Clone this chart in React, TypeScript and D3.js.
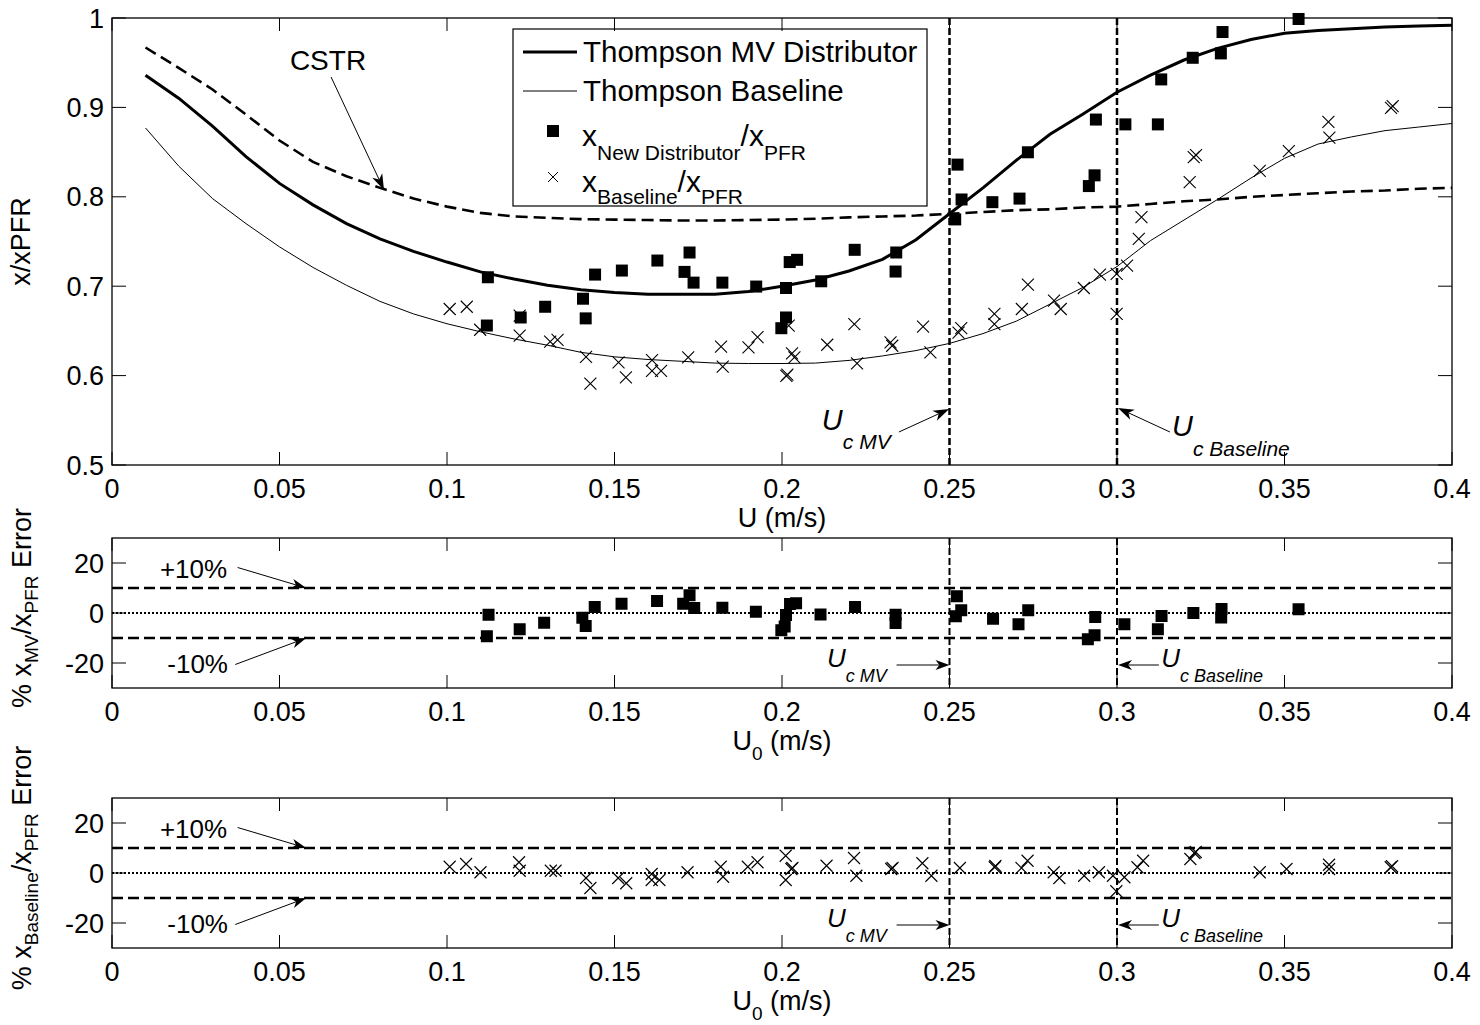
import React from 'react';
import * as d3 from 'd3';

// ---------- DATA ----------
const modelU = [0.01, 0.02, 0.03, 0.04, 0.05, 0.06, 0.07, 0.08, 0.09, 0.10, 0.11, 0.12, 0.13, 0.14, 0.15, 0.16, 0.17, 0.18, 0.19, 0.20, 0.21, 0.22, 0.23, 0.24, 0.25, 0.26, 0.27, 0.28, 0.29, 0.30, 0.31, 0.32, 0.33, 0.34, 0.35, 0.36, 0.37, 0.38, 0.39, 0.40];
const thompsonMV = [0.936, 0.910, 0.879, 0.845, 0.815, 0.791, 0.770, 0.753, 0.739, 0.727, 0.716, 0.708, 0.701, 0.696, 0.693, 0.691, 0.691, 0.691, 0.694, 0.700, 0.707, 0.717, 0.730, 0.752, 0.781, 0.810, 0.841, 0.870, 0.893, 0.917, 0.936, 0.953, 0.966, 0.976, 0.983, 0.986, 0.988, 0.990, 0.991, 0.992];
const thompsonBaseline = [0.877, 0.834, 0.798, 0.770, 0.744, 0.721, 0.701, 0.683, 0.669, 0.658, 0.649, 0.641, 0.634, 0.626, 0.621, 0.618, 0.616, 0.614, 0.6135, 0.6135, 0.614, 0.617, 0.622, 0.628, 0.636, 0.647, 0.661, 0.680, 0.699, 0.722, 0.751, 0.774, 0.797, 0.821, 0.843, 0.859, 0.867, 0.874, 0.878, 0.882];
const cstr = [0.967, 0.944, 0.920, 0.892, 0.863, 0.839, 0.823, 0.810, 0.798, 0.789, 0.782, 0.778, 0.7765, 0.775, 0.7745, 0.774, 0.7735, 0.7735, 0.774, 0.7745, 0.7755, 0.777, 0.778, 0.779, 0.781, 0.783, 0.785, 0.786, 0.788, 0.789, 0.792, 0.795, 0.797, 0.800, 0.802, 0.804, 0.806, 0.807, 0.809, 0.810];

const mvU = [0.1122, 0.1119, 0.122, 0.1293, 0.1406, 0.1414, 0.1442, 0.1522, 0.1628, 0.1724, 0.1709, 0.1736, 0.1822, 0.1923, 0.2012, 0.2023, 0.2045, 0.2012, 0.1998, 0.2117, 0.2217, 0.2341, 0.2339, 0.2524, 0.2536, 0.2517, 0.2628, 0.2709, 0.2734, 0.2933, 0.2916, 0.2937, 0.3025, 0.3122, 0.3132, 0.3226, 0.331, 0.3315, 0.3542];
const mvRatio = [0.710, 0.656, 0.665, 0.677, 0.686, 0.664, 0.713, 0.7175, 0.7287, 0.7377, 0.716, 0.704, 0.704, 0.6996, 0.698, 0.727, 0.7295, 0.665, 0.653, 0.7055, 0.7407, 0.7377, 0.7164, 0.836, 0.797, 0.7747, 0.794, 0.798, 0.8498, 0.824, 0.812, 0.8864, 0.881, 0.881, 0.9313, 0.9555, 0.9604, 0.9843, 0.9989];

const blU = [0.1008, 0.1059, 0.1099, 0.1217, 0.1217, 0.1308, 0.133, 0.1415, 0.1428, 0.1512, 0.1534, 0.1612, 0.1612, 0.1639, 0.172, 0.1818, 0.1823, 0.190, 0.1927, 0.2013, 0.2016, 0.203, 0.2037, 0.202, 0.2135, 0.2216, 0.2224, 0.2324, 0.2329, 0.2421, 0.2443, 0.2527, 0.2535, 0.2634, 0.2634, 0.2716, 0.2734, 0.2812, 0.2832, 0.2901, 0.2949, 0.2999, 0.2999, 0.303, 0.3065, 0.3073, 0.3217, 0.3229, 0.3236, 0.3426, 0.3513, 0.3634, 0.3631, 0.3818, 0.3823];
const blRatio = [0.6745, 0.677, 0.6513, 0.667, 0.6446, 0.638, 0.640, 0.621, 0.591, 0.6147, 0.598, 0.6174, 0.6054, 0.6054, 0.6203, 0.6323, 0.610, 0.6315, 0.643, 0.5998, 0.601, 0.6248, 0.6203, 0.656, 0.6345, 0.6577, 0.6136, 0.6371, 0.6334, 0.6547, 0.6259, 0.648, 0.653, 0.669, 0.6577, 0.6745, 0.7018, 0.6839, 0.6745, 0.698, 0.713, 0.7138, 0.669, 0.723, 0.753, 0.7772, 0.8165, 0.8445, 0.8465, 0.8289, 0.8512, 0.8662, 0.8838, 0.8995, 0.9015];

const mvErrU = [0.1124, 0.1119, 0.1217, 0.129, 0.1404, 0.1414, 0.1441, 0.1521, 0.1627, 0.1724, 0.1705, 0.1738, 0.1822, 0.1922, 0.1998, 0.2008, 0.2012, 0.2024, 0.2042, 0.2115, 0.2218, 0.2339, 0.2339, 0.2522, 0.2535, 0.2519, 0.263, 0.2706, 0.2735, 0.2935, 0.2933, 0.2913, 0.3022, 0.3133, 0.3122, 0.3228, 0.3312, 0.3311, 0.3542];
const mvErr = [-0.7, -9.3, -6.5, -3.9, -1.9, -5.2, 2.4, 3.7, 4.8, 7.1, 3.7, 2.0, 2.1, 0.5, -6.9, -5.4, -0.8, 3.6, 3.9, -0.6, 2.4, -0.7, -4.0, 6.7, 1.1, -1.3, -2.3, -4.5, 1.1, -1.6, -8.9, -10.5, -4.5, -1.2, -6.5, 0.0, 1.6, -1.8, 1.5];

const blErrU = [0.1008, 0.1057, 0.110, 0.1215, 0.1217, 0.131, 0.1324, 0.1415, 0.1428, 0.1511, 0.1535, 0.1611, 0.1611, 0.1634, 0.1718, 0.1817, 0.1824, 0.1898, 0.1927, 0.2011, 0.2011, 0.2028, 0.2031, 0.2133, 0.2215, 0.2222, 0.2326, 0.2330, 0.2419, 0.2446, 0.2531, 0.2635, 0.2637, 0.2715, 0.2733, 0.2811, 0.2828, 0.2902, 0.2946, 0.2988, 0.2998, 0.3022, 0.3061, 0.3078, 0.3219, 0.3231, 0.3235, 0.3426, 0.3506, 0.3633, 0.3633, 0.3817, 0.3821];
const blErr = [2.5, 3.6, 0.3, 4.3, 0.9, 0.9, 0.9, -2.0, -6.0, -2.0, -4.1, -0.4, -2.8, -2.8, 0.3, 2.5, -1.5, 2.5, 4.3, 6.9, -2.8, 1.6, 2.0, 2.9, 6.0, -1.1, 1.6, 2.0, 3.9, -1.1, 2.0, 2.3, 2.8, 2.0, 4.9, 0.3, -2.0, -1.1, 0.3, -1.1, -7.3, -1.7, 2.3, 4.9, 5.6, 8.0, 8.4, 0.3, 1.6, 1.6, 3.3, 2.3, 2.7];

const xTicks = [0, 0.05, 0.1, 0.15, 0.2, 0.25, 0.3, 0.35, 0.4];
const xTickLabels = ['0', '0.05', '0.1', '0.15', '0.2', '0.25', '0.3', '0.35', '0.4'];
const mainYTicks = [0.5, 0.6, 0.7, 0.8, 0.9, 1];
const mainYTickLabels = ['0.5', '0.6', '0.7', '0.8', '0.9', '1'];
const errYTicks = [-20, 0, 20];
const errYTickLabels = ['-20', '0', '20'];
const critU = [0.25, 0.3];
const bandLevels = [10, -10];

const legendLabels = ['Thompson MV Distributor', 'Thompson Baseline'];

// ---------- LAYOUT ----------
const FONT = '"Liberation Sans", Arial, Helvetica, sans-serif';
const W = 1480, H = 1025;
const X0 = 112, X1 = 1452;
const x = d3.scaleLinear().domain([0, 0.4]).range([X0, X1]);
const yMain = d3.scaleLinear().domain([0.5, 1]).range([465, 18]);
const yMid = d3.scaleLinear().domain([-30, 30]).range([688, 538]);
const yBot = d3.scaleLinear().domain([-30, 30]).range([948, 798]);

function Arrow({ x1, y1, x2, y2, head = 15, width = 10, sw = 1 }: any) {
  const a = Math.atan2(y2 - y1, x2 - x1);
  const ux = Math.cos(a), uy = Math.sin(a);
  const px = -uy, py = ux;
  const bx = x2 - ux * head, by = y2 - uy * head;
  const nx = x2 - ux * head * 0.72, ny = y2 - uy * head * 0.72;
  const pts = [
    [x2, y2],
    [bx + px * width / 2, by + py * width / 2],
    [nx, ny],
    [bx - px * width / 2, by - py * width / 2],
  ].map(p => p.join(',')).join(' ');
  return (
    <g>
      <line x1={x1} y1={y1} x2={nx} y2={ny} stroke="#000" strokeWidth={sw} />
      <polygon points={pts} fill="#000" />
    </g>
  );
}

function Square({ cx, cy, s = 12 }: any) {
  return <rect x={cx - s / 2} y={cy - s / 2} width={s} height={s} fill="#000" />;
}
function Cross({ cx, cy, s = 12, sw = 1.1 }: any) {
  const h = s / 2;
  return <path d={`M${cx - h},${cy - h}L${cx + h},${cy + h}M${cx - h},${cy + h}L${cx + h},${cy - h}`} stroke="#000" strokeWidth={sw} fill="none" />;
}

function Frame({ y, yTicks, yLabels, tickFont = 27 }: any) {
  const [yb, yt] = y.range();
  const tl = 13;
  return (
    <g>
      {xTicks.map((t, i) => (
        <g key={'xt' + i}>
          <line x1={x(t)} x2={x(t)} y1={yb} y2={yb - tl} stroke="#000" strokeWidth={1} />
          <line x1={x(t)} x2={x(t)} y1={yt} y2={yt + tl} stroke="#000" strokeWidth={1} />
          <text x={x(t)} y={yb + 33} textAnchor="middle" fontSize={tickFont} fontFamily={FONT}>{xTickLabels[i]}</text>
        </g>
      ))}
      {yTicks.map((t: number, i: number) => (
        <g key={'yt' + i}>
          <line x1={X0} x2={X0 + 14} y1={y(t)} y2={y(t)} stroke="#000" strokeWidth={1} />
          <line x1={X1} x2={X1 - 14} y1={y(t)} y2={y(t)} stroke="#000" strokeWidth={1} />
          <text x={104} y={y(t) + 9.5} textAnchor="end" fontSize={tickFont} fontFamily={FONT}>{yLabels[i]}</text>
        </g>
      ))}
      <rect x={X0} y={yt} width={X1 - X0} height={yb - yt} fill="none" stroke="#000" strokeWidth={1.3} />
    </g>
  );
}

function ErrorPanel({ y, us, errs, marker, labelCenter, subLabel }: any) {
  const [yb, yt] = y.range();
  return (
    <g>
      {bandLevels.map((b, i) => (
        <line key={'b' + i} x1={X0} x2={X1} y1={y(b)} y2={y(b)} stroke="#000" strokeWidth={2.3} strokeDasharray="11,5" />
      ))}
      <line x1={X0} x2={X1} y1={y(0)} y2={y(0)} stroke="#000" strokeWidth={2.2} strokeDasharray="2,2" />
      {critU.map((c, i) => (
        <line key={'c' + i} x1={x(c)} x2={x(c)} y1={yt} y2={yb} stroke="#000" strokeWidth={2} strokeDasharray="7,3" />
      ))}
      {us.map((u: number, i: number) =>
        marker === 'square'
          ? <Square key={i} cx={x(u)} cy={y(errs[i])} />
          : <Cross key={i} cx={x(u)} cy={y(errs[i])} />
      )}
      {/* +/-10% annotations */}
      <text x={x(0.0143)} y={y(14)} fontSize={26} fontFamily={FONT}>+10%</text>
      <Arrow x1={x(0.0375)} y1={y(18.2)} x2={x(0.058)} y2={y(10)} />
      <text x={x(0.0165)} y={y(-24)} fontSize={26} fontFamily={FONT}>-10%</text>
      <Arrow x1={x(0.0368)} y1={y(-20.6)} x2={x(0.058)} y2={y(-10)} />
      {/* critical velocity annotations */}
      <text x={x(0.2134)} y={y(-21.6)} fontSize={26} fontStyle="italic" fontFamily={FONT}>U<tspan dy={15} fontSize={18}>c MV</tspan></text>
      <Arrow x1={x(0.2342)} y1={y(-20.8)} x2={x(0.25)} y2={y(-20.8)} head={14} width={10} />
      <text x={x(0.3132)} y={y(-21.6)} fontSize={26} fontStyle="italic" fontFamily={FONT}>U<tspan dy={15} fontSize={18}>c Baseline</tspan></text>
      <Arrow x1={x(0.3125)} y1={y(-20.8)} x2={x(0.3003)} y2={y(-20.8)} head={14} width={10} />
      <Frame y={y} yTicks={errYTicks} yLabels={errYTickLabels} />
      {/* axis labels */}
      <text x={(X0 + X1) / 2} y={yb + 62} textAnchor="middle" fontSize={27} fontFamily={FONT}>U<tspan dy={10} fontSize={19}>0</tspan><tspan dy={-10}> (m/s)</tspan></text>
      <text transform={`translate(31,${labelCenter}) rotate(-90)`} textAnchor="middle" fontSize={27} fontFamily={FONT}>
        % x<tspan dy={7} fontSize={19}>{subLabel}</tspan><tspan dy={-7}>/x</tspan><tspan dy={7} fontSize={19}>PFR</tspan><tspan dy={-7}> Error</tspan>
      </text>
    </g>
  );
}

export default function App() {
  const lineMV = d3.line<number>().x((_, i) => x(modelU[i])).y(d => yMain(d));
  const [yb, yt] = yMain.range();
  return (
    <svg width={W} height={H} style={{ position: 'absolute', left: 0, top: 0, background: '#fff' }} xmlns="http://www.w3.org/2000/svg">
      <rect x={0} y={0} width={W} height={H} fill="#fff" />
      {/* ---------- MAIN PANEL ---------- */}
      <g>
        <path d={lineMV(cstr) || ''} fill="none" stroke="#000" strokeWidth={2.6} strokeDasharray="12,6" />
        <path d={lineMV(thompsonBaseline) || ''} fill="none" stroke="#000" strokeWidth={1} />
        <path d={lineMV(thompsonMV) || ''} fill="none" stroke="#000" strokeWidth={3} />
        {critU.map((c, i) => (
          <line key={'cm' + i} x1={x(c)} x2={x(c)} y1={yt} y2={yb} stroke="#000" strokeWidth={2.5} strokeDasharray="7,3" />
        ))}
        {mvU.map((u, i) => <Square key={'s' + i} cx={x(u)} cy={yMain(mvRatio[i])} />)}
        {blU.map((u, i) => <Cross key={'x' + i} cx={x(u)} cy={yMain(blRatio[i])} />)}

        {/* CSTR annotation */}
        <text x={x(0.0531)} y={yMain(0.9418)} fontSize={28} fontFamily={FONT}>CSTR</text>
        <Arrow x1={x(0.0654)} y1={yMain(0.934)} x2={x(0.0812)} y2={yMain(0.8076)} head={16} width={11} />

        {/* Uc annotations */}
        <text x={x(0.2119)} y={yMain(0.539)} fontSize={29} fontStyle="italic" fontFamily={FONT}>U<tspan dy={19} fontSize={21}>c MV</tspan></text>
        <Arrow x1={x(0.2349)} y1={yMain(0.5369)} x2={x(0.2499)} y2={yMain(0.5626)} head={16} width={11} />
        <text x={x(0.3164)} y={yMain(0.5324)} fontSize={29} fontStyle="italic" fontFamily={FONT}>U<tspan dy={20} fontSize={21}>c Baseline</tspan></text>
        <Arrow x1={x(0.3158)} y1={yMain(0.5369)} x2={x(0.3003)} y2={yMain(0.5638)} head={16} width={11} />

        {/* Legend */}
        <g>
          <rect x={513} y={29} width={414} height={177} fill="#fff" stroke="#000" strokeWidth={1.2} />
          <line x1={523} x2={577} y1={52} y2={52} stroke="#000" strokeWidth={3} />
          <text x={583} y={62} fontSize={29.5} fontFamily={FONT}>{legendLabels[0]}</text>
          <line x1={523} x2={577} y1={91} y2={91} stroke="#000" strokeWidth={1} />
          <text x={583} y={101} fontSize={29.5} fontFamily={FONT}>{legendLabels[1]}</text>
          <Square cx={553} cy={131} s={12} />
          <text x={582} y={146} fontSize={30} fontFamily={FONT}>x<tspan dy={14} fontSize={21}>New Distributor</tspan><tspan dy={-14}>/x</tspan><tspan dy={14} fontSize={21}>PFR</tspan></text>
          <Cross cx={553} cy={177} s={10} sw={1} />
          <text x={582} y={192} fontSize={30} fontFamily={FONT}>x<tspan dy={12} fontSize={21}>Baseline</tspan><tspan dy={-12}>/x</tspan><tspan dy={12} fontSize={21}>PFR</tspan></text>
        </g>

        <Frame y={yMain} yTicks={mainYTicks} yLabels={mainYTickLabels} />
        <text x={(X0 + X1) / 2} y={527} textAnchor="middle" fontSize={27} fontFamily={FONT}>U (m/s)</text>
        <text transform={`translate(30,${(yb + yt) / 2}) rotate(-90)`} textAnchor="middle" fontSize={27} fontFamily={FONT}>x/xPFR</text>
      </g>

      {/* ---------- MIDDLE PANEL ---------- */}
      <ErrorPanel y={yMid} us={mvErrU} errs={mvErr} marker="square" labelCenter={608} subLabel="MV" />

      {/* ---------- BOTTOM PANEL ---------- */}
      <ErrorPanel y={yBot} us={blErrU} errs={blErr} marker="cross" labelCenter={868} subLabel="Baseline" />
    </svg>
  );
}
